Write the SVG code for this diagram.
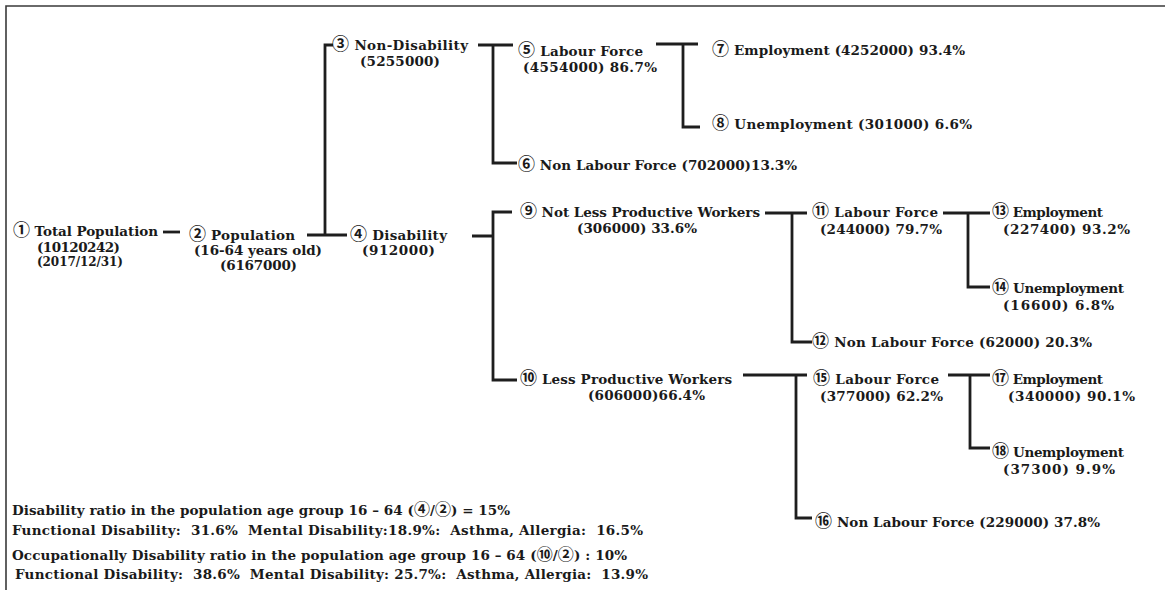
<svg xmlns="http://www.w3.org/2000/svg" width="1165" height="590" viewBox="0 0 1165 590">
<style>
text{font-family:"DejaVu Serif","Noto Sans CJK JP",serif;font-weight:bold;font-size:13.5px;fill:#1a1a1a}
.n{font-family:"Noto Sans CJK JP","DejaVu Sans",sans-serif;font-size:17px;font-weight:bold}
.m{font-family:"Noto Sans CJK JP","DejaVu Sans",sans-serif;font-size:16px;font-weight:bold}
.s{font-size:12px}
.f{font-size:13.5px}
.c{fill:none;stroke:#1e1e1e;stroke-width:2.8}
.b{fill:none;stroke:#3a3a3a;stroke-width:1.6}
</style>
<rect width="1165" height="590" fill="#fff"/>
<path class="b" d="M6,590 V6 H1165"/>
<g id="connectors">
<path class="c" d="M163,232 H180"/>
<path class="c" d="M307,235 H347 M325,235 V45 H333"/>
<path class="c" d="M478,45 H513 M493,45 V163 H517"/>
<path class="c" d="M656,44 H698 M683,44 V127 H700"/>
<path class="c" d="M472,236 H493 M512,212 H493 V380 H517"/>
<path class="c" d="M765,213 H807 M792,213 V342 H812"/>
<path class="c" d="M943,213 H990 M968,213 V287 H990"/>
<path class="c" d="M743,375 H807 M796,375 V518 H812"/>
<path class="c" d="M948,375 H990 M970,375 V448 H990"/>
</g>
<g id="n1">
<text x="13" y="236" textLength="145"><tspan class="n">①</tspan> Total Population</text>
<text x="37" y="252" textLength="83">(10120242)</text>
<text class="s" x="37" y="266" textLength="86">(2017/12/31)</text>
</g>
<g id="n2">
<text x="189" y="240" textLength="106"><tspan class="n">②</tspan> Population</text>
<text x="194" y="255" textLength="128">(16-64 years old)</text>
<text x="220" y="270" textLength="77">(6167000)</text>
</g>
<g id="n3">
<text x="332" y="50" textLength="136"><tspan class="n">③</tspan> Non-Disability</text>
<text x="360" y="66" textLength="80">(5255000)</text>
</g>
<g id="n4">
<text x="350" y="240" textLength="97"><tspan class="n">④</tspan> Disability</text>
<text x="362" y="255" textLength="73">(912000)</text>
</g>
<g id="n5">
<text x="518" y="56" textLength="125"><tspan class="n">⑤</tspan> Labour Force</text>
<text x="523" y="72" textLength="134">(4554000) 86.7%</text>
</g>
<g id="n6">
<text x="518" y="170" textLength="279"><tspan class="n">⑥</tspan> Non Labour Force (702000)13.3%</text>
</g>
<g id="n7">
<text x="712" y="55" textLength="253"><tspan class="n">⑦</tspan> Employment (4252000) 93.4%</text>
</g>
<g id="n8">
<text x="712" y="129" textLength="260"><tspan class="n">⑧</tspan> Unemployment (301000) 6.6%</text>
</g>
<g id="n9">
<text x="520" y="217" textLength="240"><tspan class="n">⑨</tspan> Not Less Productive Workers</text>
<text x="577" y="233" textLength="120">(306000) 33.6%</text>
</g>
<g id="n10">
<text x="520" y="384" textLength="212"><tspan class="n">⑩</tspan> Less Productive Workers</text>
<text x="588" y="400" textLength="117">(606000)66.4%</text>
</g>
<g id="n11">
<text x="812" y="217" textLength="126"><tspan class="n">⑪</tspan> Labour Force</text>
<text x="820" y="234" textLength="122">(244000) 79.7%</text>
</g>
<g id="n12">
<text x="812" y="347" textLength="280"><tspan class="n">⑫</tspan> Non Labour Force (62000) 20.3%</text>
</g>
<g id="n13">
<text x="992" y="217" textLength="111"><tspan class="n">⑬</tspan> Employment</text>
<text x="1003" y="234" textLength="127">(227400) 93.2%</text>
</g>
<g id="n14">
<text x="992" y="293" textLength="132"><tspan class="n">⑭</tspan> Unemployment</text>
<text x="1003" y="310" textLength="111">(16600) 6.8%</text>
</g>
<g id="n15">
<text x="813" y="384" textLength="126"><tspan class="n">⑮</tspan> Labour Force</text>
<text x="820" y="401" textLength="123">(377000) 62.2%</text>
</g>
<g id="n16">
<text x="815" y="527" textLength="285"><tspan class="n">⑯</tspan> Non Labour Force (229000) 37.8%</text>
</g>
<g id="n17">
<text x="992" y="384" textLength="111"><tspan class="n">⑰</tspan> Employment</text>
<text x="1008" y="401" textLength="127">(340000) 90.1%</text>
</g>
<g id="n18">
<text x="992" y="457" textLength="132"><tspan class="n">⑱</tspan> Unemployment</text>
<text x="1003" y="474" textLength="112">(37300) 9.9%</text>
</g>
<g id="notes">
<text class="f" x="12" y="515" textLength="498">Disability ratio in the population age group 16 – 64 (<tspan class="m">④</tspan>/<tspan class="m">②</tspan>) = 15%</text>
<text class="f" x="12" y="535" textLength="631" xml:space="preserve">Functional Disability:  31.6%  Mental Disability:18.9%:  Asthma, Allergia:  16.5%</text>
<text class="f" x="12" y="560" textLength="615">Occupationally Disability ratio in the population age group 16 – 64 (<tspan class="m">⑩</tspan>/<tspan class="m">②</tspan>) : 10%</text>
<text class="f" x="15" y="579" textLength="633" xml:space="preserve">Functional Disability:  38.6%  Mental Disability: 25.7%:  Asthma, Allergia:  13.9%</text>
</g>
</svg>
